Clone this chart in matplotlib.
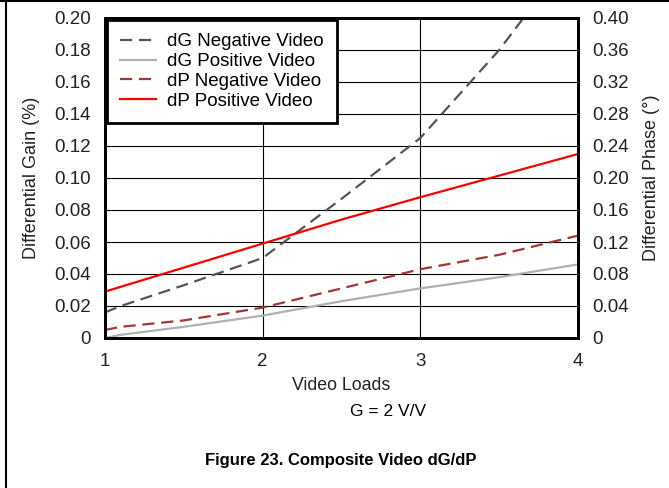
# Composite video dG/dP versus video loads (G = 2 V/V)

import matplotlib.pyplot as plt
from matplotlib.lines import Line2D

plt.rcParams['font.family'] = ['Liberation Sans', 'DejaVu Sans']

# Data
loads = [1, 1.1, 1.5, 2, 2.5, 3, 3.5, 4]
dg_negative = [0.016, 0.020, 0.033, 0.050, 0.087, 0.125, 0.180, 0.245]   # %
dg_positive = [0.000, 0.002, 0.007, 0.014, 0.023, 0.031, 0.038, 0.046]   # %
dp_negative = [0.010, 0.014, 0.022, 0.038, 0.062, 0.086, 0.104, 0.128]   # degrees
dp_positive = [0.058, 0.064, 0.088, 0.118, 0.148, 0.176, 0.203, 0.230]   # degrees

gain_ticks = [0, 0.02, 0.04, 0.06, 0.08, 0.10, 0.12, 0.14, 0.16, 0.18, 0.20]
phase_ticks = [0, 0.04, 0.08, 0.12, 0.16, 0.20, 0.24, 0.28, 0.32, 0.36, 0.40]

fig = plt.figure(figsize=(6.69, 4.88), dpi=100)
ax = fig.add_axes([105 / 669, 1 - 338 / 488, 473 / 669, 320 / 488])
ax2 = ax.twinx()

dash = (0, (5.5, 3))
ln1, = ax.plot(loads, dg_negative, color="#555555", lw=1.6, ls=dash,
               label="dG Negative Video")
ln2, = ax.plot(loads, dg_positive, color="#b0b0b0", lw=1.6,
               label="dG Positive Video")
ln3, = ax2.plot(loads, dp_negative, color="#a33535", lw=1.6, ls=dash,
                label="dP Negative Video")
ln4, = ax2.plot(loads, dp_positive, color="#ff0000", lw=1.6,
                label="dP Positive Video")

ax.set_xlim(1, 4)
ax.set_ylim(0, 0.20)
ax2.set_ylim(0, 0.40)
ax.set_xticks([1, 2, 3, 4])
ax.set_yticks(gain_ticks)
ax.set_yticklabels(["0"] + ["%.2f" % v for v in gain_ticks[1:]])
ax2.set_yticks(phase_ticks)
ax2.set_yticklabels(["0"] + ["%.2f" % v for v in phase_ticks[1:]])

ax.grid(True, color="black", lw=0.8)
ax.tick_params(axis="y", length=0, labelsize=13.5, pad=10, colors="#222222")
ax.tick_params(axis="x", length=0, labelsize=13.5, pad=11, colors="#222222")
ax2.tick_params(length=0, labelsize=13.5, pad=10, colors="#222222")
for a in (ax, ax2):
    for s in a.spines.values():
        s.set_linewidth(2)

ax.set_xlabel("Video Loads", fontsize=12.8, labelpad=5, color="#222222")
ax.set_ylabel("Differential Gain (%)", fontsize=13, labelpad=10, color="#222222")
ax2.set_ylabel("Differential Phase (°)", fontsize=13, labelpad=10, color="#222222")

leg = ax2.legend(handles=[ln1, ln2, ln3, ln4], loc="upper left",
                 bbox_to_anchor=(0, 1), borderaxespad=0.1, fontsize=13.5,
                 fancybox=False, framealpha=1, handlelength=1.9,
                 labelspacing=0.15, borderpad=0.7, handletextpad=0.6)
leg.get_frame().set_edgecolor("black")
leg.get_frame().set_linewidth(2)

fig.text(388 / 669, 1 - 411 / 488, "G = 2 V/V", ha="center", va="center",
         fontsize=12.5)
fig.text(341 / 669, 1 - 460 / 488, "Figure 23. Composite Video dG/dP",
         ha="center", va="center", fontsize=12, fontweight="bold")

# Page frame (top and left rules)
fig.add_artist(Line2D([0, 1], [1 - 1 / 488, 1 - 1 / 488], color="black", lw=1.5))
fig.add_artist(Line2D([6 / 669, 6 / 669], [0, 1], color="black", lw=1.5))

fig.savefig("out.png", dpi=100)
